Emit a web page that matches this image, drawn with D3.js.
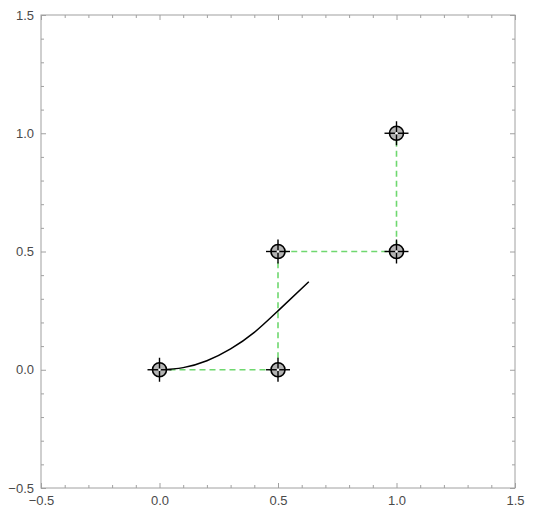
<!DOCTYPE html>
<html><head><meta charset="utf-8">
<script src="https://cdn.jsdelivr.net/npm/d3@7"></script>
<style>body{margin:0;background:#fff}svg{display:block}</style>
</head><body>
<script>
const ctrlX = [0, 0.5, 0.5, 1, 1];
const ctrlY = [0, 0, 0.5, 0.5, 1];
const curveX = [0, 0.1, 0.2, 0.3, 0.4, 0.5, 0.63];
const curveY = [0, 0.009, 0.038, 0.088, 0.158, 0.249, 0.372];
const majorTicks = [-0.5, 0, 0.5, 1, 1.5];
const tickLabels = ["\u22120.5", "0.0", "0.5", "1.0", "1.5"];

const W = 540, H = 528;
const svg = d3.select("body").append("svg").attr("width", W).attr("height", H);
const x = d3.scaleLinear().domain([-0.5, 1.5]).range([41, 515]);
const y = d3.scaleLinear().domain([-0.5, 1.5]).range([488, 15]);
const minor = d3.range(-0.4, 1.5, 0.1).map(v => +v.toFixed(1)).filter(v => !majorTicks.some(m => Math.abs(m - v) < 1e-9));
const fmt = d => tickLabels[majorTicks.findIndex(m => Math.abs(m - d) < 1e-9)];
const frameCol = "#a0a0a0";

function styleAxis(g, labels) {
  g.attr("font-family", null).attr("font-size", null);
  g.select(".domain").remove();
  g.selectAll("line").attr("stroke", frameCol).attr("stroke-width", 1);
  g.selectAll("text").attr("fill", labels ? "#4a4a4a" : "none")
    .style("font-family", "'Liberation Sans', Arial, sans-serif").style("font-size", "13px");
}
// bottom
svg.append("g").attr("transform", `translate(0,${y.range()[0]})`)
  .call(d3.axisTop(x).tickValues(minor).tickSize(3).tickFormat("")).call(g => styleAxis(g, false));
svg.append("g").attr("transform", `translate(0,${y.range()[0]})`)
  .call(d3.axisTop(x).tickValues(majorTicks).tickSize(5).tickFormat(""))
  .call(g => styleAxis(g, false));
svg.append("g").attr("transform", `translate(0,${y.range()[0]})`)
  .call(d3.axisBottom(x).tickValues(majorTicks).tickSize(0).tickPadding(8).tickFormat(fmt))
  .call(g => styleAxis(g, true));
// top
svg.append("g").attr("transform", `translate(0,${y.range()[1]})`)
  .call(d3.axisBottom(x).tickValues(minor).tickSize(3).tickFormat("")).call(g => styleAxis(g, false));
svg.append("g").attr("transform", `translate(0,${y.range()[1]})`)
  .call(d3.axisBottom(x).tickValues(majorTicks).tickSize(5).tickFormat("")).call(g => styleAxis(g, false));
// left
svg.append("g").attr("transform", `translate(${x.range()[0]},0)`)
  .call(d3.axisRight(y).tickValues(minor).tickSize(3).tickFormat("")).call(g => styleAxis(g, false));
svg.append("g").attr("transform", `translate(${x.range()[0]},0)`)
  .call(d3.axisRight(y).tickValues(majorTicks).tickSize(5).tickFormat("")).call(g => styleAxis(g, false));
svg.append("g").attr("transform", `translate(${x.range()[0]},0)`)
  .call(d3.axisLeft(y).tickValues(majorTicks).tickSize(0).tickPadding(7).tickFormat(fmt))
  .call(g => styleAxis(g, true));
// right
svg.append("g").attr("transform", `translate(${x.range()[1]},0)`)
  .call(d3.axisLeft(y).tickValues(minor).tickSize(3).tickFormat("")).call(g => styleAxis(g, false));
svg.append("g").attr("transform", `translate(${x.range()[1]},0)`)
  .call(d3.axisLeft(y).tickValues(majorTicks).tickSize(5).tickFormat("")).call(g => styleAxis(g, false));
// frame
svg.append("rect").attr("x", x.range()[0]).attr("y", y.range()[1])
  .attr("width", x.range()[1] - x.range()[0]).attr("height", y.range()[0] - y.range()[1])
  .attr("fill", "none").attr("stroke", frameCol).attr("stroke-width", 1);

const ctrl = ctrlX.map((v, i) => [v, ctrlY[i]]);
const curvePts = curveX.map((v, i) => [v, curveY[i]]);

// green dashed control polygon
svg.append("path").datum(ctrl)
  .attr("d", d3.line().x(d => x(d[0])).y(d => y(d[1])))
  .attr("fill", "none").attr("stroke", "#6fd86f").attr("stroke-width", 1.6)
  .attr("stroke-dasharray", "6,4");

// black curve
svg.append("path").datum(curvePts)
  .attr("d", d3.line().x(d => x(d[0])).y(d => y(d[1])).curve(d3.curveNatural))
  .attr("fill", "none").attr("stroke", "#000").attr("stroke-width", 1.5);

// markers
const mk = svg.append("g").selectAll("g").data(ctrl).join("g")
  .attr("transform", d => `translate(${x(d[0])},${y(d[1])})`);
mk.append("circle").attr("r", 7).attr("fill", "#b4b4b4").attr("stroke", "#000").attr("stroke-width", 1.6);
mk.append("line").attr("x1", -12).attr("x2", 12).attr("stroke", "#000").attr("stroke-width", 1.4);
mk.append("line").attr("y1", -12).attr("y2", 12).attr("stroke", "#000").attr("stroke-width", 1.4);
mk.append("circle").attr("r", 1.3).attr("fill", "#fff");
</script>
</body></html>
